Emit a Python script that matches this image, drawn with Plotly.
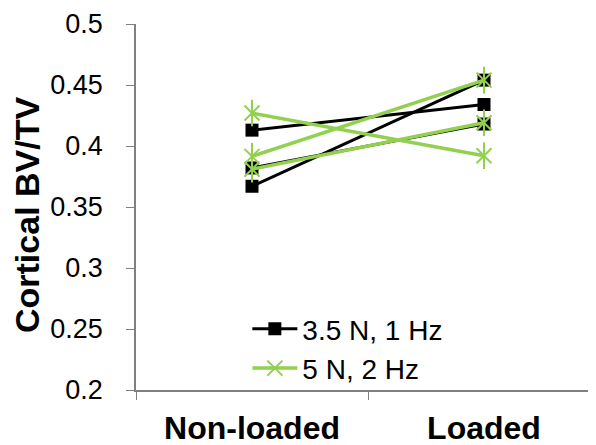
import plotly.graph_objects as go

categories = ["Non-loaded", "Loaded"]
black_nonloaded = [0.413, 0.367, 0.382]
black_loaded = [0.434, 0.454, 0.418]
green_nonloaded = [0.427, 0.3915, 0.381]
green_loaded = [0.392, 0.454, 0.419]
y_ticks = [0.2, 0.25, 0.3, 0.35, 0.4, 0.45, 0.5]
y_tick_text = ["0.2", "0.25", "0.3", "0.35", "0.4", "0.45", "0.5"]
y_title = "Cortical BV/TV"

BLACK = "#000000"
GREEN = "#92D050"
FONT = "Liberation Sans, Arial, sans-serif"

fig = go.Figure()
for i, (a, b) in enumerate(zip(black_nonloaded, black_loaded)):
    fig.add_trace(go.Scatter(
        x=categories, y=[a, b], mode="lines+markers",
        name="3.5 N, 1 Hz", legendgroup="b", showlegend=(i == 0),
        line=dict(color=BLACK, width=3),
        marker=dict(symbol="square", size=13, color=BLACK),
    ))
for i, (a, b) in enumerate(zip(green_nonloaded, green_loaded)):
    fig.add_trace(go.Scatter(
        x=categories, y=[a, b], mode="lines+markers",
        name="5 N, 2 Hz", legendgroup="g", showlegend=(i == 0),
        line=dict(color=GREEN, width=3.5),
        marker=dict(symbol="x-thin-open", size=15, color=GREEN,
                    line=dict(color=GREEN, width=2)),
    ))
    fig.add_trace(go.Scatter(
        x=categories, y=[a, b], mode="markers",
        legendgroup="g", showlegend=False, hoverinfo="skip",
        marker=dict(symbol="line-ns-open", size=19, color=GREEN,
                    line=dict(color=GREEN, width=2)),
    ))

fig.add_annotation(
    text="<b>" + y_title + "</b>", xref="paper", yref="paper",
    x=-0.235, y=0.478, xanchor="center", yanchor="middle",
    textangle=-90, showarrow=False, font=dict(size=34, family=FONT, color="black"),
)

fig.update_layout(
    width=596, height=445,
    margin=dict(l=128, r=4, t=16, b=63),
    paper_bgcolor="white", plot_bgcolor="white",
    font=dict(family=FONT, color="black", size=27),
    showlegend=True,
    legend=dict(x=0.24, y=0.235, xanchor="left", yanchor="top",
                bgcolor="rgba(0,0,0,0)", font=dict(size=28),
                tracegroupgap=0, itemwidth=45),
    xaxis=dict(
        type="category", categoryorder="array", categoryarray=categories,
        range=[-0.5, 1.5], showline=True, linecolor="#808080", linewidth=1.5,
        ticks="outside", tickson="boundaries", ticklen=8, tickcolor="#808080",
        showgrid=False, zeroline=False, automargin=False,
        ticklabelstandoff=9,
        tickfont=dict(size=32, family=FONT, weight="bold"),
    ),
    yaxis=dict(
        range=[0.2, 0.5], tickvals=y_ticks, ticktext=y_tick_text,
        showline=True, linecolor="#808080", linewidth=1.5,
        ticks="outside", ticklen=8, tickcolor="#808080",
        showgrid=False, zeroline=False, automargin=False,
        ticklabelstandoff=18,
        tickfont=dict(size=27),
    ),
)

fig.write_html("out.html")
